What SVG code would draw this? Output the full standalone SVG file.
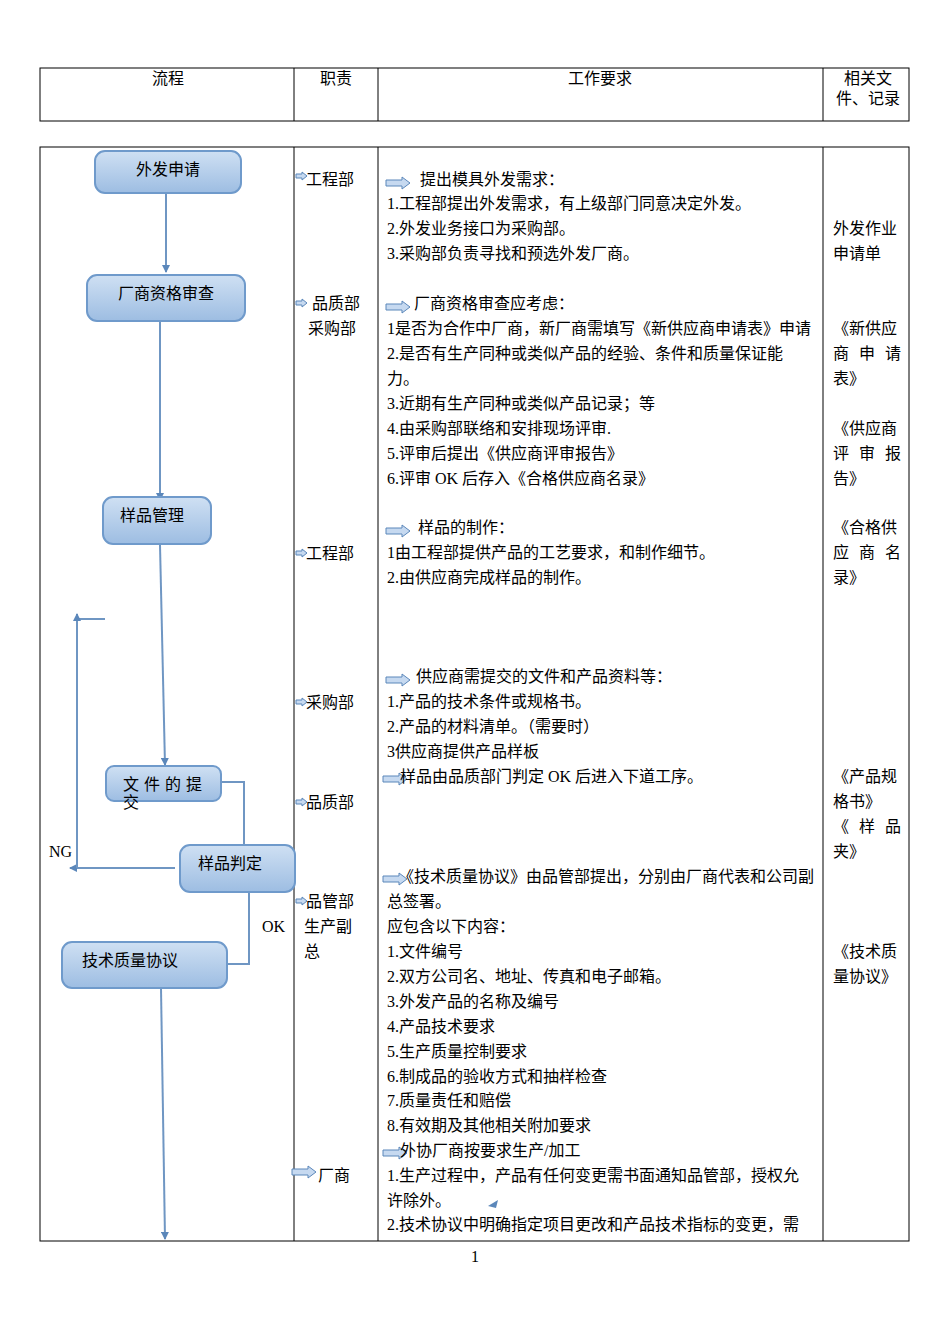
<svg xmlns="http://www.w3.org/2000/svg" width="950" height="1344" viewBox="0 0 950 1344">
<defs>
<linearGradient id="g" x1="0" y1="0" x2="0" y2="1"><stop offset="0" stop-color="#cfe0f3"/><stop offset="1" stop-color="#9dbde2"/></linearGradient>
<marker id="a" markerWidth="8" markerHeight="8" refX="7" refY="4" orient="auto" markerUnits="userSpaceOnUse"><path d="M0,0 L8,4 L0,8 z" fill="#5b87ba"/></marker>
<g id="ic"><path d="M0,-3 H16 V-6 L24,0 L16,6 V3 H0 z" fill="#c6d9f0" stroke="#5b87ba" stroke-width="1"/></g>
<g id="sm"><path d="M0,-2 H6 V-4 L11,0 L6,4 V2 H0 z" fill="#c6d9f0" stroke="#5b87ba" stroke-width="1"/></g>
</defs>
<style>
text{font-family:"Liberation Serif","Noto Sans CJK SC",serif;font-size:16px;fill:#000}
.b{fill:url(#g);stroke:#6f9acb;stroke-width:2}
.c{stroke:#6f96c3;stroke-width:2;fill:none}
.t{fill:none;stroke:#000;stroke-width:1}
</style>
<rect width="950" height="1344" fill="#fff"/>
<g id="table">
<rect class="t" x="40" y="68" width="869" height="53"/>
<path class="t" d="M294,68V121M378,68V121M823,68V121"/>
<rect class="t" x="40" y="147" width="869" height="1094"/>
<path class="t" d="M294,147V1241M378,147V1241M823,147V1241"/>
<text x="168" y="84" text-anchor="middle">流程</text>
<text x="336" y="84" text-anchor="middle">职责</text>
<text x="600" y="84" text-anchor="middle">工作要求</text>
<text x="868" y="84" text-anchor="middle">相关文</text>
<text x="868" y="104" text-anchor="middle">件、记录</text>
</g>
<g id="connectors">
<path class="c" d="M166,193V272" marker-end="url(#a)"/>
<path class="c" d="M160,322V500" marker-end="url(#a)"/>
<path class="c" d="M160,545L165,765" marker-end="url(#a)"/>
<path class="c" d="M220,782H244V845"/>
<path class="c" d="M175,868H70" marker-end="url(#a)"/>
<path class="c" d="M77,868V619H105"/>
<path class="c" d="M77,630V614" marker-end="url(#a)"/>
<path class="c" d="M249,893V964H228"/>
<path class="c" d="M161,988L165,1239" marker-end="url(#a)"/>
<path d="M488,1206L498,1200L496,1208z" fill="#5b87ba"/>
</g>
<g id="n1"><rect class="b" x="95" y="151" width="146" height="42" rx="10"/><text x="168" y="175" text-anchor="middle">外发申请</text></g>
<g id="n2"><rect class="b" x="87" y="275" width="158" height="46" rx="10"/><text x="166" y="299" text-anchor="middle">厂商资格审查</text></g>
<g id="n3"><rect class="b" x="103" y="497" width="108" height="47" rx="10"/><text x="152" y="521" text-anchor="middle">样品管理</text></g>
<g id="n4"><rect class="b" x="106" y="766" width="115" height="35" rx="8"/><text x="123" y="790" letter-spacing="5">文件的提</text><text x="123" y="808">交</text></g>
<g id="n5"><rect class="b" x="180" y="845" width="115" height="47" rx="10"/><text x="230" y="869" text-anchor="middle">样品判定</text></g>
<g id="n6"><rect class="b" x="62" y="942" width="165" height="46" rx="10"/><text x="130" y="966" text-anchor="middle">技术质量协议</text></g>
<text x="49" y="857">NG</text>
<text x="262" y="932">OK</text>
<g id="duty">
<use href="#sm" x="296" y="176"/><text x="306" y="185">工程部</text>
<use href="#sm" x="296" y="303"/><text x="312" y="309">品质部</text><text x="308" y="334">采购部</text>
<use href="#sm" x="296" y="553"/><text x="306" y="559">工程部</text>
<use href="#sm" x="296" y="702"/><text x="306" y="708">采购部</text>
<use href="#sm" x="296" y="802"/><text x="306" y="808">品质部</text>
<use href="#sm" x="296" y="901"/><text x="306" y="907">品管部</text><text x="304" y="932">生产副</text><text x="304" y="957">总</text>
<use href="#ic" x="292" y="1172"/><text x="318" y="1181">厂商</text>
</g>
<g id="req">
<use href="#ic" x="386" y="183"/><text x="420" y="185">提出模具外发需求：</text>
<text x="387" y="209">1.工程部提出外发需求，有上级部门同意决定外发。</text>
<text x="387" y="234">2.外发业务接口为采购部。</text>
<text x="387" y="259">3.采购部负责寻找和预选外发厂商。</text>
<use href="#ic" x="386" y="307"/><text x="414" y="309">厂商资格审查应考虑：</text>
<text x="387" y="334">1是否为合作中厂商，新厂商需填写《新供应商申请表》申请</text>
<text x="387" y="359">2.是否有生产同种或类似产品的经验、条件和质量保证能</text>
<text x="387" y="384">力。</text>
<text x="387" y="409">3.近期有生产同种或类似产品记录；等</text>
<text x="387" y="434">4.由采购部联络和安排现场评审.</text>
<text x="387" y="459">5.评审后提出《供应商评审报告》</text>
<text x="387" y="484">6.评审 OK 后存入《合格供应商名录》</text>
<use href="#ic" x="386" y="531"/><text x="418" y="533">样品的制作：</text>
<text x="387" y="558">1由工程部提供产品的工艺要求，和制作细节。</text>
<text x="387" y="583">2.由供应商完成样品的制作。</text>
<use href="#ic" x="386" y="680"/><text x="416" y="682">供应商需提交的文件和产品资料等：</text>
<text x="387" y="707">1.产品的技术条件或规格书。</text>
<text x="387" y="732">2.产品的材料清单。（需要时）</text>
<text x="387" y="757">3供应商提供产品样板</text>
<use href="#ic" x="383" y="779"/><text x="400" y="782">样品由品质部门判定 OK 后进入下道工序。</text>
<use href="#ic" x="383" y="879"/><text x="398" y="882">《技术质量协议》由品管部提出，分别由厂商代表和公司副</text>
<text x="387" y="907">总签署。</text>
<text x="387" y="932">应包含以下内容：</text>
<text x="387" y="957">1.文件编号</text>
<text x="387" y="982">2.双方公司名、地址、传真和电子邮箱。</text>
<text x="387" y="1007">3.外发产品的名称及编号</text>
<text x="387" y="1032">4.产品技术要求</text>
<text x="387" y="1057">5.生产质量控制要求</text>
<text x="387" y="1082">6.制成品的验收方式和抽样检查</text>
<text x="387" y="1106">7.质量责任和赔偿</text>
<text x="387" y="1131">8.有效期及其他相关附加要求</text>
<use href="#ic" x="383" y="1153"/><text x="400" y="1156">外协厂商按要求生产/加工</text>
<text x="387" y="1181">1.生产过程中，产品有任何变更需书面通知品管部，授权允</text>
<text x="387" y="1206">许除外。</text>
<text x="387" y="1230">2.技术协议中明确指定项目更改和产品技术指标的变更，需</text>
</g>
<g id="docs">
<text x="833" y="234">外发作业</text><text x="833" y="259">申请单</text>
<text x="833" y="334">《新供应</text><text x="833" y="359" textLength="68">商申请</text><text x="833" y="384">表》</text>
<text x="833" y="434">《供应商</text><text x="833" y="459" textLength="68">评审报</text><text x="833" y="484">告》</text>
<text x="833" y="533">《合格供</text><text x="833" y="558" textLength="68">应商名</text><text x="833" y="583">录》</text>
<text x="833" y="782">《产品规</text><text x="833" y="807">格书》</text>
<text x="833" y="832" textLength="68">《样品</text><text x="833" y="857">夹》</text>
<text x="833" y="957">《技术质</text><text x="833" y="982">量协议》</text>
</g>
<text x="475" y="1262" text-anchor="middle" font-size="12">1</text>
</svg>
